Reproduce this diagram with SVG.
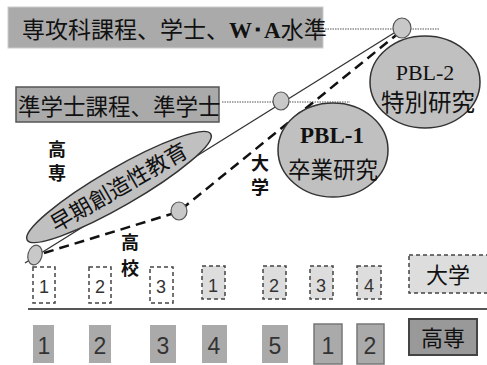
<svg xmlns="http://www.w3.org/2000/svg" width="487" height="365" viewBox="0 0 487 365">
<style>
.jp{font-family:"Noto Sans CJK JP","Noto Sans CJK SC",sans-serif;fill:#111}
.num{font-family:"Liberation Sans","DejaVu Sans",sans-serif;fill:#333;text-anchor:middle}
.serif{font-family:"Liberation Serif","DejaVu Serif",serif;fill:#111}
.dbox{stroke:#444;stroke-width:1.5;stroke-dasharray:4 3}
.gbox{fill:#aaa}
.dot{stroke:#555;stroke-width:1.2;stroke-dasharray:1.5 1}
.node{fill:#c0c0c0;stroke:#333;stroke-width:1.5}
.small{fill:#c8c8c8;stroke:#555;stroke-width:1.2}
.bold{font-family:"Noto Sans CJK JP",sans-serif;font-weight:bold;fill:#111;text-anchor:middle}
</style>
<rect width="487" height="365" fill="#fff"/>

<g id="level-advanced">
<rect x="8" y="7" width="315" height="41" fill="#aaa" stroke="#ccc" stroke-width="1"/>
<text x="22" y="38" font-size="23"><tspan class="jp">専攻科課程、学士、</tspan><tspan class="serif" font-weight="bold">W･A</tspan><tspan class="jp">水準</tspan></text>
</g>

<g id="level-associate">
<rect x="16" y="87" width="203" height="35" fill="#aaa" stroke="#555" stroke-width="1.5"/>
<text class="jp" x="18" y="115" font-size="22.5">準学士課程、準学士</text>
</g>

<g id="connectors">
<line class="dot" x1="325" y1="29" x2="440" y2="29"/>
<line class="dot" x1="222" y1="102" x2="350" y2="102"/>
<line x1="25" y1="263" x2="402" y2="28" stroke="#333" stroke-width="1.3"/>
<polyline points="44,253 178,212 400,32" fill="none" stroke="#111" stroke-width="2.5" stroke-dasharray="10 6"/>
</g>

<g id="early-creative">
<ellipse cx="119" cy="187" rx="106" ry="19" transform="rotate(-30 119 187)" class="node"/>
<text class="jp" x="119" y="195" font-size="22" text-anchor="middle" transform="rotate(-30 119 187)">早期創造性教育</text>
</g>

<g id="pbl1">
<ellipse cx="333" cy="150" rx="55" ry="47" class="node"/>
<text class="serif" x="332" y="143" font-size="23" font-weight="bold" text-anchor="middle">PBL-1</text>
<text class="jp" x="333" y="178" font-size="22.5" text-anchor="middle">卒業研究</text>
</g>

<g id="pbl2">
<ellipse cx="425" cy="82" rx="55" ry="46" class="node"/>
<text class="serif" x="425" y="80" font-size="22" text-anchor="middle">PBL-2</text>
<text class="jp" x="428" y="111" font-size="23.5" text-anchor="middle">特別研究</text>
</g>

<g id="point-start"><ellipse cx="35" cy="255" rx="7" ry="10" class="small" transform="rotate(15 35 255)"/></g>
<g id="point-hs"><ellipse cx="179" cy="211" rx="8" ry="9" class="small"/></g>
<g id="point-assoc"><ellipse cx="281" cy="101" rx="8" ry="9" class="small"/></g>
<g id="point-adv"><ellipse cx="402" cy="28" rx="9" ry="10" class="small"/></g>

<g id="label-kosen"><text class="bold" x="57" y="156" font-size="18">高</text><text class="bold" x="57" y="180" font-size="18">専</text></g>
<g id="label-hs"><text class="bold" x="130" y="249" font-size="18">高</text><text class="bold" x="130" y="275" font-size="18">校</text></g>
<g id="label-univ"><text class="bold" x="260" y="170" font-size="18">大</text><text class="bold" x="260" y="194" font-size="18">学</text></g>

<g id="row-upper">
<rect class="dbox" x="33" y="267" width="22" height="36" fill="#fff"/><text class="num" x="44" y="293" font-size="18">1</text>
<rect class="dbox" x="89" y="267" width="22" height="36" fill="#fff"/><text class="num" x="100" y="293" font-size="18">2</text>
<rect class="dbox" x="150" y="267" width="23" height="36" fill="#fff"/><text class="num" x="161" y="293" font-size="18">3</text>
<rect class="dbox" x="202" y="266" width="23" height="33" fill="#ddd"/><text class="num" x="213" y="292" font-size="18">1</text>
<rect class="dbox" x="263" y="266" width="23" height="33" fill="#ddd"/><text class="num" x="274" y="292" font-size="18">2</text>
<rect class="dbox" x="310" y="266" width="23" height="33" fill="#ddd"/><text class="num" x="321" y="292" font-size="18">3</text>
<rect class="dbox" x="357" y="266" width="24" height="33" fill="#ddd"/><text class="num" x="369" y="292" font-size="18">4</text>
<rect class="dbox" x="409" y="255" width="80" height="38" fill="#ddd"/><text class="jp" x="448" y="283" font-size="22" text-anchor="middle">大学</text>
</g>

<line id="divider" x1="28" y1="309" x2="487" y2="309" stroke="#555" stroke-width="2"/>

<g id="row-lower">
<rect class="gbox" x="33" y="325" width="21" height="38"/><text class="num" x="44" y="354" font-size="23">1</text>
<rect class="gbox" x="89" y="325" width="22" height="38"/><text class="num" x="100" y="354" font-size="23">2</text>
<rect class="gbox" x="150" y="325" width="26" height="38"/><text class="num" x="163" y="354" font-size="23">3</text>
<rect class="gbox" x="202" y="325" width="25" height="38"/><text class="num" x="214" y="354" font-size="23">4</text>
<rect class="gbox" x="262" y="325" width="26" height="38"/><text class="num" x="275" y="354" font-size="23">5</text>
<rect class="gbox" x="314" y="324" width="28" height="40" stroke="#777" stroke-width="1.5"/><text class="num" x="328" y="354" font-size="23">1</text>
<rect class="gbox" x="357" y="324" width="27" height="40" stroke="#777" stroke-width="1.5"/><text class="num" x="370" y="354" font-size="23">2</text>
<rect x="409" y="319" width="68" height="36" fill="#999" stroke="#444" stroke-width="2"/><text class="jp" x="443" y="346" font-size="22" text-anchor="middle">高専</text>
</g>
</svg>
